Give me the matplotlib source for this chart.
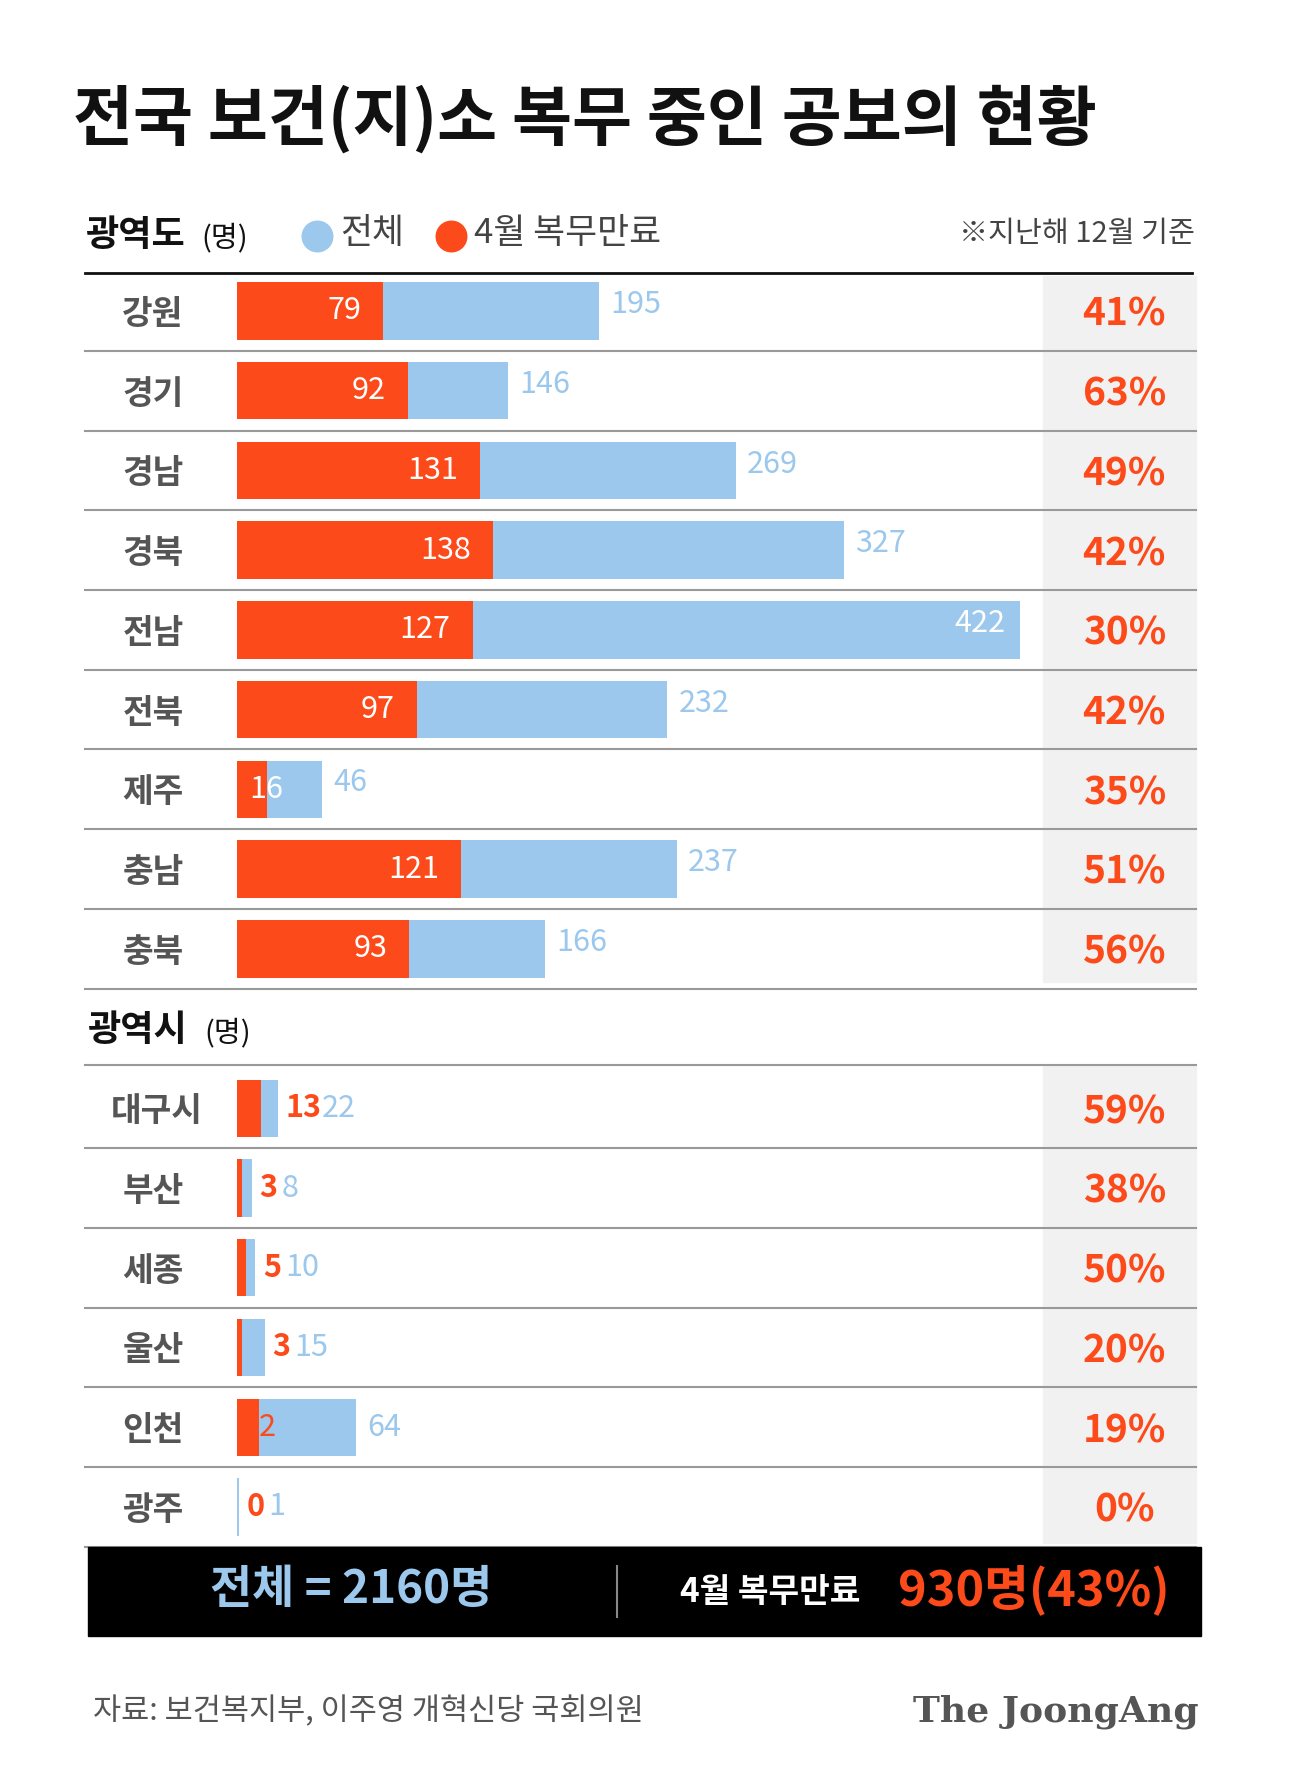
import matplotlib
matplotlib.use("Agg")
import matplotlib.pyplot as plt
from matplotlib.patches import Rectangle

plt.rcParams['font.family'] = ['Noto Sans CJK KR', 'DejaVu Sans']

prov = ['강원', '경기', '경남', '경북', '전남', '전북', '제주', '충남', '충북']
prov_total = [195, 146, 269, 327, 422, 232, 46, 237, 166]
prov_done = [79, 92, 131, 138, 127, 97, 16, 121, 93]
prov_pct = ['41%', '63%', '49%', '42%', '30%', '42%', '35%', '51%', '56%']
city = ['대구시', '부산', '세종', '울산', '인천', '광주']
city_total = [22, 8, 10, 15, 64, 1]
city_done = [13, 3, 5, 3, 12, 0]
city_pct = ['59%', '38%', '50%', '20%', '19%', '0%']

W, H = 1140, 1568
RED = '#fc4a1a'
BLUE = '#9bc8ec'
GRAY = '#555555'

fig = plt.figure(figsize=(12.92, 17.86), dpi=100)
fig.patch.set_facecolor('white')
bg = fig.add_axes([0, 0, 1, 1])
bg.set_xlim(0, W); bg.set_ylim(H, 0); bg.axis('off')

bg.text(64, 105, '전국 보건(지)소 복무 중인 공보의 현황', fontsize=47, fontweight='heavy', va='center', color='#111')
bg.text(76, 207, '광역도', fontsize=26, fontweight='heavy', va='center', color='#111')
bg.text(178, 209, '(명)', fontsize=21, va='center', color='#111')
bg.plot([280], [207], 'o', ms=22, color=BLUE)
bg.text(300, 205, '전체', fontsize=25, fontweight='medium', va='center', color='#444')
bg.plot([398], [207], 'o', ms=22, color=RED)
bg.text(418, 205, '4월 복무만료', fontsize=25, fontweight='medium', va='center', color='#444')
bg.text(1054, 205, '※지난해 12월 기준', fontsize=21, fontweight='medium', va='center', ha='right', color='#444')
bg.plot([75, 1052], [240, 240], color='#111', lw=2)

rows_y = [273 + 70 * i for i in range(9)] + [273 + 70 * i for i in range(10, 16)]
labels = prov + city
pcts = prov_pct + city_pct
bg.add_patch(Rectangle((920, 242), 135, 620, color='#f1f1f1', zorder=0))
bg.add_patch(Rectangle((920, 935), 135, 420, color='#f1f1f1', zorder=0))
for y, lab, p in zip(rows_y, labels, pcts):
    bg.plot([75, 1055], [y + 35, y + 35], color='#999', lw=1.5, zorder=1)
    bg.text(135 if len(lab) == 2 else 138, y + 3, lab, fontsize=24, fontweight='bold',
            ha='center', va='center', color=GRAY)
    bg.text(992, y + 3, p, fontsize=28, fontweight='heavy', ha='center', va='center', color=RED)
bg.text(78, 905, '광역시', fontsize=26, fontweight='heavy', va='center', color='#111')
bg.text(180, 907, '(명)', fontsize=21, va='center', color='#111')
bg.plot([75, 1055], [935, 935], color='#999', lw=1.5)

bg.add_patch(Rectangle((78, 1358), 982, 78, color='black'))
bg.text(310, 1396, '전체 = 2160명', fontsize=33, fontweight='heavy', ha='center', va='center', color=BLUE)
bg.plot([544, 544], [1375, 1420], color='#888', lw=1.5)
bg.text(680, 1398, '4월 복무만료', fontsize=24, fontweight='heavy', ha='center', va='center', color='white')
bg.text(912, 1396, '930명(43%)', fontsize=35, fontweight='heavy', ha='center', va='center', color=RED)
bg.text(82, 1503, '자료: 보건복지부, 이주영 개혁신당 국회의원', fontsize=22, fontweight='medium', va='center', color='#555')
bg.text(1058, 1503, 'The JoongAng', fontsize=26, fontweight='bold', family='DejaVu Serif',
        ha='right', va='center', color='#555')

x0, x1 = 209, 900
top, bot = 238, 273 + 70 * 15.5
ax = fig.add_axes([x0 / W, 1 - bot / H, (x1 - x0) / W, (bot - top) / H])
ax.set_xlim(0, 422); ax.set_ylim(15.5, -0.5); ax.axis('off')
ax.patch.set_alpha(0)
idx = list(range(9)) + list(range(10, 16))
tot = prov_total + city_total
done = prov_done + city_done
ax.barh(idx, tot, height=0.72, color=BLUE)
ax.barh(idx, done, height=0.72, color=RED)
FS = 22
for i, t, d in zip(idx, tot, done):
    if i < 9:
        if t == 422:
            ax.text(t - 8, i - 0.08, str(t), ha='right', va='center', fontsize=FS, color='white')
        else:
            ax.text(t + 6, i - 0.08, str(t), ha='left', va='center', fontsize=FS, color=BLUE)
        if d > 20:
            ax.text(d - 12, i, str(d), ha='right', va='center', fontsize=FS, color='white')
        else:
            ax.text(d, i, str(d), ha='center', va='center', fontsize=FS, color='white')
    else:
        if t > 30:
            ax.text(d, i, str(d), ha='center', va='center', fontsize=FS, color=RED)
            ax.text(t + 6, i, str(t), ha='left', va='center', fontsize=FS, color=BLUE)
        else:
            ax.text(t + 4, i, str(d), ha='left', va='center', fontsize=FS, color=RED, fontweight='bold')
            ax.text(t + 4 + 8 * len(str(d)) + 4, i, str(t), ha='left', va='center', fontsize=FS, color=BLUE)

fig.savefig('out.png', dpi=100)
